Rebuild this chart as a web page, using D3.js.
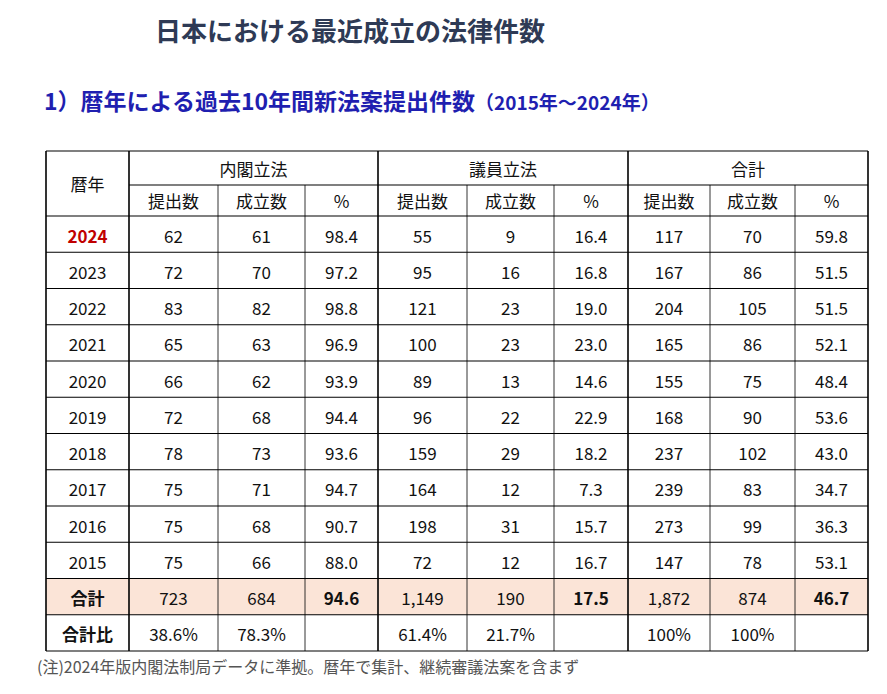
<!DOCTYPE html>
<html><head><meta charset="utf-8">
<script src="https://cdn.jsdelivr.net/npm/d3@7"></script>
<style>body{margin:0;background:#fff}</style>
</head><body>
<svg id="chart"></svg>
<script>
const years = ["2024","2023","2022","2021","2020","2019","2018","2017","2016","2015"];
const cabSub = [62,72,83,65,66,72,78,75,75,75];
const cabPass = [61,70,82,63,62,68,73,71,68,66];
const cabPct = ["98.4","97.2","98.8","96.9","93.9","94.4","93.6","94.7","90.7","88.0"];
const memSub = [55,95,121,100,89,96,159,164,198,72];
const memPass = [9,16,23,23,13,22,29,12,31,12];
const memPct = ["16.4","16.8","19.0","23.0","14.6","22.9","18.2","7.3","15.7","16.7"];
const totSub = [117,167,204,165,155,168,237,239,273,147];
const totPass = [70,86,105,86,75,90,102,83,99,78];
const totPct = ["59.8","51.5","51.5","52.1","48.4","53.6","43.0","34.7","36.3","53.1"];
const groups = ["内閣立法","議員立法","合計"];
const subHeads = ["提出数","成立数","%"];
const sumRow = ["合計","723","684","94.6","1,149","190","17.5","1,872","874","46.7"];
const ratioRow = ["合計比","38.6%","78.3%","","61.4%","21.7%","","100%","100%",""];
const colEdges = [46,129,218,305,378,467,554,628,710,795,868];

const svg = d3.select('#chart').attr('width',887).attr('height',694);
const font = "'Noto Sans CJK JP', sans-serif";

svg.append('text').attr('x',350).attr('y',41).attr('text-anchor','middle')
  .style('font-family',font).style('font-weight','bold').style('font-size','26px')
  .style('fill','#2e3a55').text('日本における最近成立の法律件数');

const sub = svg.append('text').attr('x',44).attr('y',110)
  .style('font-family',font).style('font-weight','bold').style('fill','#1f1fb0');
sub.append('tspan').style('font-size','23px').text('1）暦年による過去10年間新法案提出件数');
sub.append('tspan').style('font-size','19px').text('（2015年～2024年）');

// row layout: 0,1 header rows, 2..11 years, 12 sum, 13 ratio
const rowTops = [151,185,216];
const y = d3.scaleLinear().domain([2,14]).range([216,651]);
const rTop = i => i < 2 ? rowTops[i] : y(i);
const rBot = i => i < 1 ? rowTops[1] : (i < 2 ? rowTops[2] : y(i+1));

const rows = years.map((yr,i)=>[yr,cabSub[i],cabPass[i],cabPct[i],memSub[i],memPass[i],memPct[i],totSub[i],totPass[i],totPct[i]].map(String));
rows.push(sumRow); rows.push(ratioRow);

const g = svg.append('g');
g.append('rect').attr('x',colEdges[0]).attr('y',rTop(12)).attr('width',colEdges[10]-colEdges[0])
  .attr('height',rBot(12)-rTop(12)).attr('fill','#fbe4d7');

function txt(x,yy,s,opt){
  g.append('text').attr('x',x).attr('y',yy).attr('text-anchor','middle').attr('dominant-baseline','central')
   .style('font-family',font).style('font-size',(opt&&opt.size||17)+'px')
   .style('font-weight',opt&&opt.bold?'bold':'normal').style('fill',opt&&opt.color||'#111').text(s);
}
const cx = c => (colEdges[c]+colEdges[c+1])/2;

txt(cx(0),(rTop(0)+rBot(1))/2,'暦年');
groups.forEach((gname,k)=>txt((colEdges[1+3*k]+colEdges[4+3*k])/2,(rTop(0)+rBot(0))/2,gname));
groups.forEach((gname,k)=>subHeads.forEach((h,j)=>txt(cx(1+3*k+j),(rTop(1)+rBot(1))/2,h)));

rows.forEach((r,ri)=>{
  const row = ri+2, my=(rTop(row)+rBot(row))/2;
  r.forEach((v,c)=>{
    let opt={};
    if(c===0 && ri===0) opt={bold:true,color:'#c00000'};
    else if(c===0 && ri>=10) opt={bold:true};
    else if(ri===10 && (c===3||c===6||c===9)) opt={bold:true};
    txt(cx(c),my+1,v,opt);
  });
});

const L = (x1,y1,x2,y2,w)=>g.append('line').attr('x1',x1).attr('y1',y1).attr('x2',x2).attr('y2',y2)
  .attr('stroke','#000').attr('stroke-width',w);
L(colEdges[0],rTop(0),colEdges[10],rTop(0),1.2);
L(colEdges[1],rBot(0),colEdges[10],rBot(0),1.2);
for(let i=1;i<14;i++) L(colEdges[0],rBot(i),colEdges[10],rBot(i),1.2);
colEdges.forEach((x,c)=>{
  const thick = [0,1,4,7,10].includes(c);
  L(x, (thick? rTop(0) : rBot(0)), x, rBot(13), thick?1.6:0.8);
});

svg.append('text').attr('x',37).attr('y',673).style('font-family',font).style('font-size','16px')
  .style('fill','#555').text('(注)2024年版内閣法制局データに準拠。暦年で集計、継続審議法案を含まず');
</script>
</body></html>
